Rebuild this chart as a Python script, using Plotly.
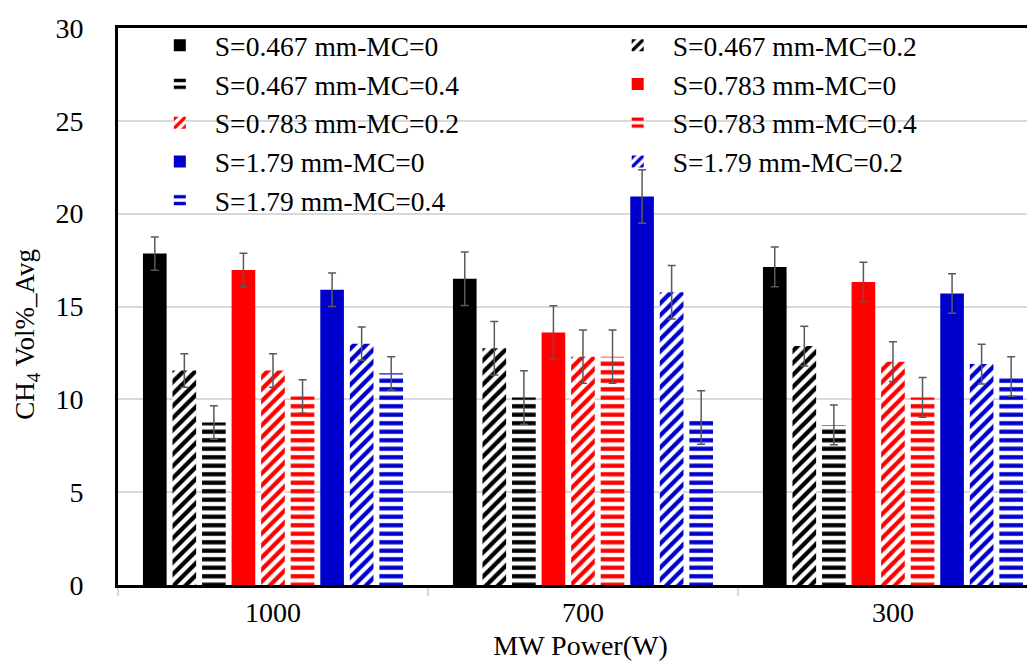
import plotly.graph_objects as go

categories = ["1000", "700", "300"]

series_names = [
    "S=0.467 mm-MC=0", "S=0.467 mm-MC=0.2", "S=0.467 mm-MC=0.4",
    "S=0.783 mm-MC=0", "S=0.783 mm-MC=0.2", "S=0.783 mm-MC=0.4",
    "S=1.79 mm-MC=0", "S=1.79 mm-MC=0.2", "S=1.79 mm-MC=0.4",
]

s0467_mc0 = [17.85, 16.5, 17.13]
s0467_mc02 = [11.55, 12.75, 12.87]
s0467_mc04 = [8.75, 10.1, 8.62]
s0783_mc0 = [16.97, 13.6, 16.32]
s0783_mc02 = [11.55, 12.3, 12.03]
s0783_mc04 = [10.15, 12.3, 10.1]
s179_mc0 = [15.9, 20.93, 15.7]
s179_mc02 = [13.0, 15.77, 11.9]
s179_mc04 = [11.4, 9.02, 11.23]

errors = [0.9, 1.44, 1.07]

values = [s0467_mc0, s0467_mc02, s0467_mc04,
          s0783_mc0, s0783_mc02, s0783_mc04,
          s179_mc0, s179_mc02, s179_mc04]

colors = ["#000000"] * 3 + ["#FF0000"] * 3 + ["#0000CC"] * 3
patterns = ["", "/", "-"] * 3

font_family = "Liberation Serif"
legend_font = dict(family=font_family, size=27.5, color="black")

fig = go.Figure()
for i, (name, vals, col, pat) in enumerate(zip(series_names, values, colors, patterns)):
    if pat == "":
        marker = dict(color=col, line=dict(width=0))
    else:
        marker = dict(
            color=col,
            line=dict(width=0),
            pattern=dict(shape=pat, fgcolor=col, bgcolor="white",
                         fillmode="replace", size=8.5, solidity=0.5),
        )
    fig.add_trace(go.Bar(
        name=name,
        x=categories,
        y=vals,
        marker=marker,
        legend="legend" if i % 2 == 0 else "legend2",
        error_y=dict(type="data", array=errors, visible=True,
                     color="#595959", thickness=1.5, width=4),
    ))

fig.update_layout(
    width=1035,
    height=664,
    margin=dict(l=110, r=0, t=20, b=87),
    paper_bgcolor="white",
    plot_bgcolor="white",
    barmode="group",
    bargap=0.142,
    bargroupgap=0.2,
    font=dict(family=font_family, size=28, color="black"),
    legend=dict(
        orientation="v",
        x=0.029, y=1.013, xanchor="left", yanchor="top",
        bgcolor="rgba(0,0,0,0)",
        font=legend_font,
        itemwidth=60,
        tracegroupgap=0,
    ),
    legend2=dict(
        orientation="v",
        x=0.524, y=1.013, xanchor="left", yanchor="top",
        bgcolor="rgba(0,0,0,0)",
        font=legend_font,
        itemwidth=60,
        tracegroupgap=0,
    ),
    xaxis=dict(
        type="category",
        range=[-0.5, 2.484],
        showline=True,
        mirror=True,
        linecolor="black",
        linewidth=3,
        ticks="outside",
        tickson="boundaries",
        ticklen=8,
        tickcolor="#D9D9D9",
        tickwidth=1.5,
        showgrid=False,
        tickfont=dict(size=28),
        title=dict(text="MW Power(W)", font=dict(size=28), standoff=9),
    ),
    yaxis=dict(
        range=[0, 30],
        dtick=5,
        showline=True,
        linecolor="black",
        linewidth=3,
        showgrid=True,
        gridcolor="#D9D9D9",
        gridwidth=1.5,
        zeroline=False,
        ticks="",
        ticklabelstandoff=26,
        tickfont=dict(size=28),
    ),
    annotations=[dict(
        text="CH<sub>4</sub> Vol%_Avg",
        textangle=-90,
        xref="paper", yref="paper",
        x=-0.098, y=0.45,
        xanchor="center", yanchor="middle",
        showarrow=False,
        font=dict(family=font_family, size=27, color="black"),
    )],
)

fig.write_html("out.html")
